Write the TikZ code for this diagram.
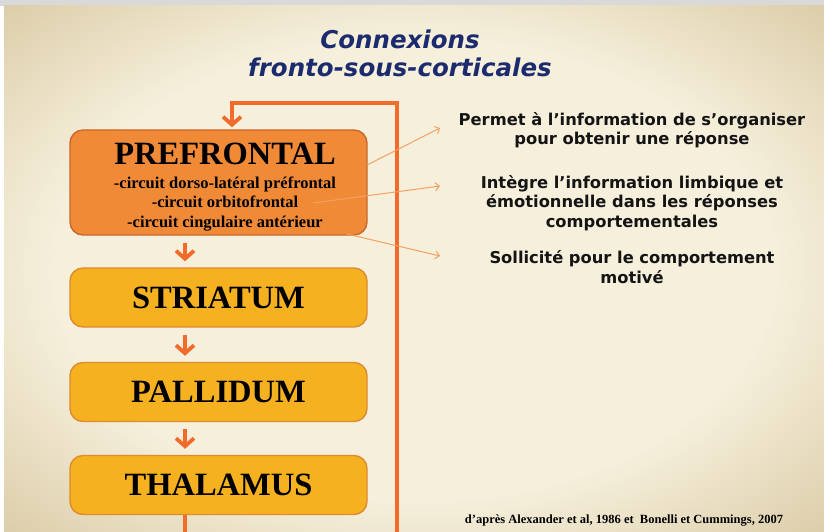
\documentclass[tikz,border=0pt]{standalone}
\usepackage{fontspec}
\setmainfont{Liberation Serif}
\newfontfamily\verd{DejaVu Sans}
\usetikzlibrary{arrows.meta,positioning}
\definecolor{navyT}{HTML}{1C2B6E}
\definecolor{preFill}{HTML}{F18A36}
\definecolor{preEdge}{HTML}{C8682A}
\definecolor{goldFill}{HTML}{F5B120}
\definecolor{goldEdge}{HTML}{DE8A2E}
\definecolor{loopC}{HTML}{F26B2A}
\definecolor{thinC}{HTML}{F5A063}
\definecolor{bgIn}{HTML}{F5EFDB}
\definecolor{bgOut}{HTML}{D8C7A0}
\pgfdeclareradialshading{bgglow}{\pgfpoint{0bp}{0bp}}{color(0bp)=(bgIn); color(22bp)=(bgIn); color(38bp)=(bgOut); color(50bp)=(bgOut)}
\begin{document}
\begin{tikzpicture}[x=1pt,y=-1pt,
	boxbase/.style={line width=1.4pt,rounded corners=13pt,minimum width=297pt,inner sep=0pt},
	prebox/.style={boxbase,draw=preEdge,fill=preFill,minimum height=105pt},
	goldbox/.style={boxbase,draw=goldEdge,fill=goldFill,minimum height=59pt,
		font=\fontsize{32.5}{36}\selectfont\bfseries},
	pretext/.style={align=center,font=\fontsize{16.5}{19.5}\selectfont\bfseries},
	flowarrow/.style={draw=loopC,line width=3.8pt,shorten <=7pt,shorten >=6pt,
		-{Straight Barb[length=8pt,width=18pt]}},
	loopline/.style={draw=loopC,line width=3.8pt,shorten >=2pt,
		-{Straight Barb[length=8pt,width=18pt]}},
	thinarrow/.style={draw=thinC,line width=1pt,-{Straight Barb[length=4pt,width=8pt]}},
	rtext/.style={align=center,text=black!92,font=\verd\bfseries\fontsize{16.3}{19.5}\selectfont},
	titletext/.style={align=center,text=navyT,font=\verd\bfseries\itshape\fontsize{24.5}{28}\selectfont}]
	\useasboundingbox (0,0) rectangle (824,532);
	\clip (0,0) rectangle (824,532);
	\fill[white] (0,0) rectangle (824,532);
	\fill[black!15] (0,0) rectangle (824,6);
	\shade[shading=bgglow] (4,6) rectangle (824,532);
	\node[titletext] (title) at (400,53) {Connexions\\fronto-sous-corticales};
	\node[prebox] (pre) at (218.5,182.5) {};
	\node[pretext] (pretxt) at (225,187) {{\fontsize{32.5}{36}\selectfont PREFRONTAL}\\[4pt]
		-circuit dorso-latéral préfrontal\\-circuit orbitofrontal\\-circuit cingulaire antérieur};
	\node[goldbox] (stri) at (218.5,297.5) {STRIATUM};
	\node[goldbox] (pall) at (218.5,392) {PALLIDUM};
	\node[goldbox] (thal) at (218.5,485) {THALAMUS};
	\draw[flowarrow] ([xshift=-33.5pt]pre.south) -- ([xshift=-33.5pt]stri.north);
	\draw[flowarrow] ([xshift=-33.5pt]stri.south) -- ([xshift=-33.5pt]pall.north);
	\draw[flowarrow] ([xshift=-33.5pt]pall.south) -- ([xshift=-33.5pt]thal.north);
	\draw[loopline] ([xshift=-33.5pt]thal.south) -- ++(0,30) -| (397,103) -| ([xshift=13.5pt]pre.north);
	\node[rtext] (organ) at (632,130) {Permet à l’information de s’organiser\\pour obtenir une réponse};
	\node[rtext] (limb) at (632,203) {Intègre l’information limbique et\\émotionnelle dans les réponses\\comportementales};
	\node[rtext] (motiv) at (632,267) {Sollicité pour le comportement\\motivé};
	\coordinate (s1) at (367,165);
	\coordinate (s2) at (313,203);
	\coordinate (s3) at (347,234);
	\coordinate (e1) at (440,128);
	\coordinate (e2) at (440,186);
	\coordinate (e3) at (440,256);
	\draw[thinarrow] (s1) -- (e1);
	\draw[thinarrow] (s2) -- (e2);
	\draw[thinarrow] (s3) -- (e3);
	\node[font=\fontsize{12.5}{14}\selectfont\bfseries] (cite) at (624,521) {d’après Alexander et al, 1986 et~~Bonelli et Cummings, 2007};
\end{tikzpicture}
\end{document}
